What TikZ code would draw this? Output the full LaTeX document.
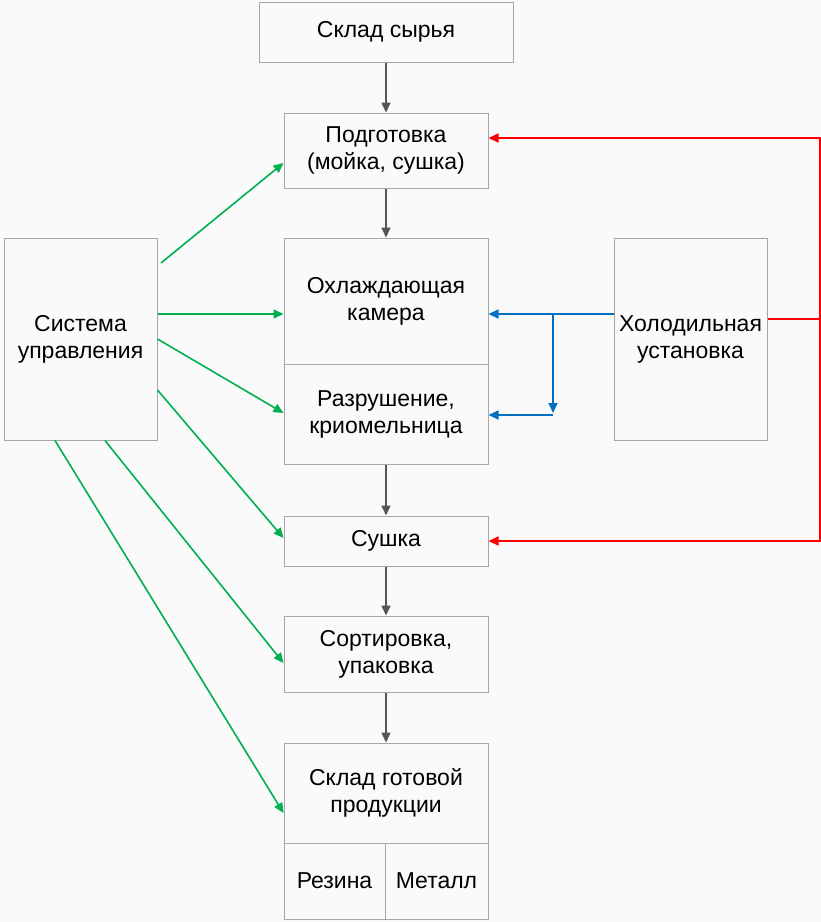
\documentclass[tikz,border=0pt]{standalone}
\usepackage{fontspec}
\setmainfont{Liberation Sans}
\usetikzlibrary{arrows.meta}
\definecolor{bg}{RGB}{250,250,250}
\definecolor{boxline}{RGB}{166,166,166}
\definecolor{flowgray}{RGB}{85,85,85}
\definecolor{ctrlgreen}{RGB}{0,176,80}
\definecolor{coolblue}{RGB}{0,112,192}
\definecolor{heatred}{RGB}{255,0,0}
\begin{document}
\begin{tikzpicture}[x=1pt,y=-1pt,
  box/.style={draw=boxline,line width=1pt,fill=bg,rectangle,align=center,inner sep=2pt,
    font=\fontsize{23}{27}\selectfont},
  tip/.style={-{Triangle[length=10pt,width=9pt]}},
  grayarrow/.style={tip,draw=flowgray,line width=1.6pt},
  greenarrow/.style={tip,draw=ctrlgreen,line width=1.6pt},
  bluearrow/.style={tip,draw=coolblue,line width=1.6pt},
  redline/.style={draw=heatred,line width=1.6pt},
  redarrow/.style={tip,draw=heatred,line width=1.6pt}]
\fill[bg] (0,0) rectangle (821,922);
\useasboundingbox (0,0) rectangle (821,922);

\node[box,minimum width=254pt,minimum height=60pt] (raw) at (386,32) {Склад сырья};
\node[box,minimum width=204pt,minimum height=75pt] (prep) at (386,150.5) {Подготовка\\(мойка, сушка)};
\node[box,minimum width=204pt,minimum height=126pt] (cool) at (386,301) {Охлаждающая\\камера};
\node[box,minimum width=204pt,minimum height=100pt] (crush) at (386,414) {Разрушение,\\криомельница};
\node[box,minimum width=153pt,minimum height=202pt] (cold) at (690.5,339) {Холодильная\\установка};
\node[box,minimum width=153pt,minimum height=202pt] (ctrl) at (80.5,339) {Система\\управления};
\node[box,minimum width=204pt,minimum height=50pt] (dry) at (386,541) {Сушка};
\node[box,minimum width=204pt,minimum height=76pt] (sort) at (386,654) {Сортировка,\\упаковка};
\node[box,minimum width=204pt,minimum height=100pt] (store) at (386,793) {Склад готовой\\продукции};
\node[box,minimum width=101pt,minimum height=76pt] (rez) at (334.5,881) {Резина};
\node[box,minimum width=103pt,minimum height=76pt] (met) at (436.5,881) {Металл};

% main flow
\draw[grayarrow] (raw.south) -- (prep.north);
\draw[grayarrow] (prep.south) -- (cool.north);
\draw[grayarrow] (crush.south) -- (dry.north);
\draw[grayarrow] (dry.south) -- (sort.north);
\draw[grayarrow] (sort.south) -- (store.north);

% cooling
\coordinate (bj) at (553,314);
\coordinate (bk) at (553,415);
\draw[bluearrow] (cold.west |- bj) -- (cool.east |- bj);
\draw[bluearrow] (bj) -- ([yshift=2pt]bk);
\draw[bluearrow] (bk) -- (crush.east |- bk);

% heat
\coordinate (rm) at (820,319);
\coordinate (rt) at (820,138);
\coordinate (rb) at (820,541);
\draw[redline] (cold.east |- rm) -- (rm);
\draw[redarrow] (rm) -- (rt) -- (prep.east |- rt);
\draw[redarrow] (rm) -- (rb) -- (dry.east |- rb);

% control
\draw[greenarrow] (161,263) -- (prep.west |- 0,163);
\draw[greenarrow] (ctrl.east |- 0,314) -- (cool.west |- 0,314);
\draw[greenarrow] (ctrl.east |- 0,339) -- (crush.west |- 0,413);
\draw[greenarrow] (ctrl.east |- 0,390) -- (dry.west |- 0,538);
\draw[greenarrow] (ctrl.south -| 105,0) -- (sort.west |- 0,663);
\draw[greenarrow] (ctrl.south -| 55,0) -- (store.west |- 0,813);
\end{tikzpicture}
\end{document}
